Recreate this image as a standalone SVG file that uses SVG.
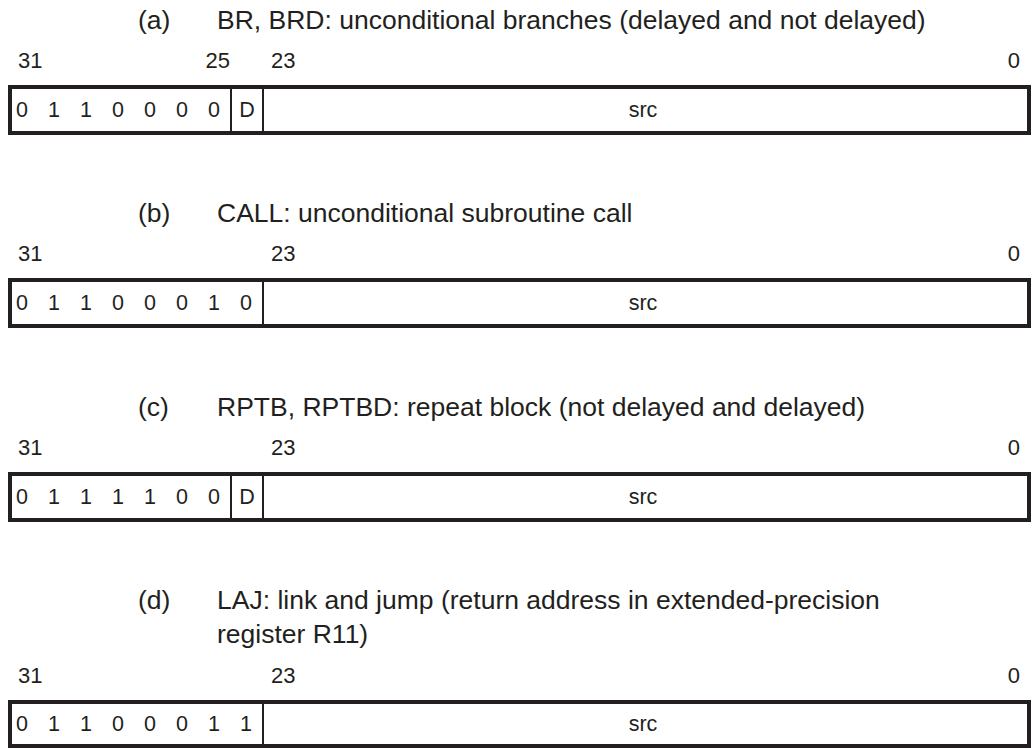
<svg xmlns="http://www.w3.org/2000/svg" width="1033" height="748" viewBox="0 0 1033 748">
<style>
text{font-family:"Liberation Sans",Arial,Helvetica,sans-serif;fill:#231f20}
.t{font-size:26.5px}
.n{font-size:22px}
.b{font-size:21.5px;text-anchor:middle}
.e{text-anchor:end}
.box{fill:#fff;stroke:#231f20;stroke-width:4}
.div{stroke:#231f20;stroke-width:2}
</style>
<rect width="1033" height="748" fill="#fff"/>
<g id="fmt-a">
<text class="t" x="138" y="29">(a)</text>
<text class="t" x="217" y="29">BR, BRD: unconditional branches (delayed and not delayed)</text>
<text class="n" x="18" y="68">31</text>
<text class="n e" x="230" y="68">25</text>
<text class="n" x="271" y="68">23</text>
<text class="n e" x="1020" y="68">0</text>
<rect class="box" x="10" y="87" width="1019" height="46"/>
<line class="div" x1="231" y1="87" x2="231" y2="133"/>
<line class="div" x1="263" y1="87" x2="263" y2="133"/>
<text class="b" y="117"><tspan x="22">0</tspan><tspan x="54">1</tspan><tspan x="86">1</tspan><tspan x="118">0</tspan><tspan x="150">0</tspan><tspan x="182">0</tspan><tspan x="214">0</tspan><tspan x="247">D</tspan></text>
<text class="b" x="643" y="117">src</text>
</g>
<g id="fmt-b">
<text class="t" x="138" y="222">(b)</text>
<text class="t" x="217" y="222">CALL: unconditional subroutine call</text>
<text class="n" x="18" y="261">31</text>
<text class="n" x="271" y="261">23</text>
<text class="n e" x="1020" y="261">0</text>
<rect class="box" x="10" y="280" width="1019" height="46"/>
<line class="div" x1="263" y1="280" x2="263" y2="326"/>
<text class="b" y="310"><tspan x="22">0</tspan><tspan x="54">1</tspan><tspan x="86">1</tspan><tspan x="118">0</tspan><tspan x="150">0</tspan><tspan x="182">0</tspan><tspan x="214">1</tspan><tspan x="246">0</tspan></text>
<text class="b" x="643" y="310">src</text>
</g>
<g id="fmt-c">
<text class="t" x="138" y="416">(c)</text>
<text class="t" x="217" y="416">RPTB, RPTBD: repeat block (not delayed and delayed)</text>
<text class="n" x="18" y="455">31</text>
<text class="n" x="271" y="455">23</text>
<text class="n e" x="1020" y="455">0</text>
<rect class="box" x="10" y="474" width="1019" height="46"/>
<line class="div" x1="231" y1="474" x2="231" y2="520"/>
<line class="div" x1="263" y1="474" x2="263" y2="520"/>
<text class="b" y="504"><tspan x="22">0</tspan><tspan x="54">1</tspan><tspan x="86">1</tspan><tspan x="118">1</tspan><tspan x="150">1</tspan><tspan x="182">0</tspan><tspan x="214">0</tspan><tspan x="247">D</tspan></text>
<text class="b" x="643" y="504">src</text>
</g>
<g id="fmt-d">
<text class="t" x="138" y="609">(d)</text>
<text class="t" x="217" y="609">LAJ: link and jump (return address in extended-precision</text>
<text class="t" x="217" y="643">register R11)</text>
<text class="n" x="18" y="683">31</text>
<text class="n" x="271" y="683">23</text>
<text class="n e" x="1020" y="683">0</text>
<rect class="box" x="10" y="702" width="1019" height="44"/>
<line class="div" x1="263" y1="702" x2="263" y2="746"/>
<text class="b" y="731"><tspan x="22">0</tspan><tspan x="54">1</tspan><tspan x="86">1</tspan><tspan x="118">0</tspan><tspan x="150">0</tspan><tspan x="182">0</tspan><tspan x="214">1</tspan><tspan x="246">1</tspan></text>
<text class="b" x="643" y="731">src</text>
</g>
<g id="connectors"/>
</svg>
